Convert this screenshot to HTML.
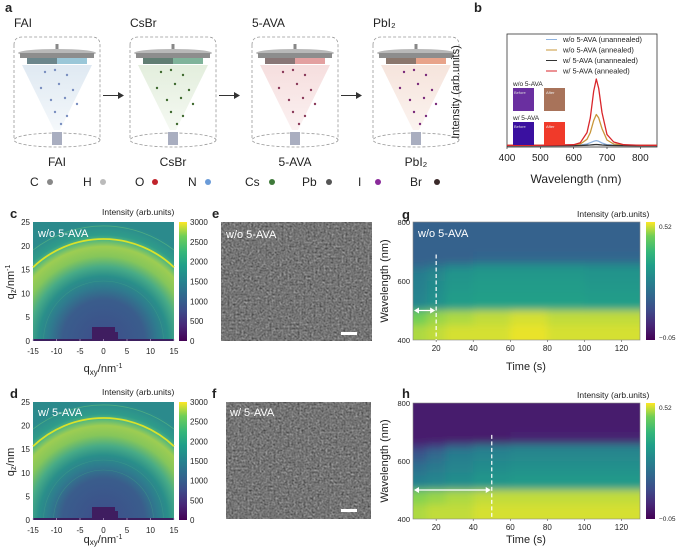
<!DOCTYPE html>
<html><head><meta charset="utf-8"><style>
html,body{margin:0;padding:0;background:#fff;width:685px;height:554px;overflow:hidden}
svg{display:block}
svg text{font-family:"Liberation Sans",sans-serif;fill:#222}
</style></head><body>
<svg id="fig" width="685" height="554" viewBox="0 0 685 554" xmlns="http://www.w3.org/2000/svg">
<defs>
<linearGradient id="vir" x1="0" y1="1" x2="0" y2="0">
<stop offset="0" stop-color="#440154"/><stop offset="0.13" stop-color="#482878"/><stop offset="0.25" stop-color="#3e4a89"/><stop offset="0.38" stop-color="#31688e"/><stop offset="0.5" stop-color="#26828e"/><stop offset="0.63" stop-color="#1f9e89"/><stop offset="0.75" stop-color="#35b779"/><stop offset="0.88" stop-color="#6ece58"/><stop offset="1" stop-color="#fde725"/></linearGradient>
<radialGradient id="gi" gradientUnits="userSpaceOnUse" cx="103.5" cy="341" r="118">
<stop offset="0" stop-color="#3d4d8a"/><stop offset="0.35" stop-color="#3a5d8c"/><stop offset="0.46" stop-color="#2f7b8e"/><stop offset="0.55" stop-color="#2a8f8a"/><stop offset="0.63" stop-color="#48ab86"/><stop offset="0.72" stop-color="#86c65a"/><stop offset="0.8" stop-color="#9dcd52"/><stop offset="0.85" stop-color="#5ab97a"/><stop offset="0.9" stop-color="#2f9c8a"/><stop offset="1" stop-color="#2b8a8c"/></radialGradient>
<radialGradient id="gi2" gradientUnits="userSpaceOnUse" cx="103.5" cy="520" r="118">
<stop offset="0" stop-color="#3d4d8a"/><stop offset="0.35" stop-color="#3a5d8c"/><stop offset="0.46" stop-color="#2f7b8e"/><stop offset="0.55" stop-color="#2a8f8a"/><stop offset="0.63" stop-color="#48ab86"/><stop offset="0.72" stop-color="#86c65a"/><stop offset="0.8" stop-color="#9dcd52"/><stop offset="0.85" stop-color="#5ab97a"/><stop offset="0.9" stop-color="#2f9c8a"/><stop offset="1" stop-color="#2b8a8c"/></radialGradient>
<filter id="sem" x="0" y="0" width="1" height="1" color-interpolation-filters="sRGB"><feTurbulence type="fractalNoise" baseFrequency="0.5" numOctaves="2" seed="3"/><feColorMatrix type="matrix" values="0.33 0.33 0.33 0 0  0.33 0.33 0.33 0 0  0.33 0.33 0.33 0 0  0 0 0 0 1"/><feComponentTransfer><feFuncR type="linear" slope="0.8" intercept="0.06"/><feFuncG type="linear" slope="0.8" intercept="0.06"/><feFuncB type="linear" slope="0.8" intercept="0.06"/></feComponentTransfer></filter>
<filter id="blur"><feGaussianBlur stdDeviation="4"/></filter>
<clipPath id="clipg"><rect x="413" y="222" width="227" height="118"/></clipPath>
<clipPath id="cliph"><rect x="413" y="403" width="227" height="116"/></clipPath>
<linearGradient id="cone1" x1="0" y1="0" x2="0" y2="1"><stop offset="0" stop-color="#dfe9f2"/><stop offset="1" stop-color="#f4f8fb"/></linearGradient>
<linearGradient id="cone2" x1="0" y1="0" x2="0" y2="1"><stop offset="0" stop-color="#e3eedd"/><stop offset="1" stop-color="#f5f9f2"/></linearGradient>
<linearGradient id="cone3" x1="0" y1="0" x2="0" y2="1"><stop offset="0" stop-color="#f6dede"/><stop offset="1" stop-color="#fbf1f1"/></linearGradient>
<linearGradient id="cone4" x1="0" y1="0" x2="0" y2="1"><stop offset="0" stop-color="#f6e4dc"/><stop offset="1" stop-color="#fbf3ef"/></linearGradient>
</defs>

<g id="panel-a">
<text x="5" y="12" font-size="13" font-weight="bold">a</text>
<g id="stations"></g>
</g>

<g id="panel-b">
<text x="474" y="12" font-size="13" font-weight="bold">b</text>
<rect x="507" y="34" width="150" height="113" fill="none" stroke="#333" stroke-width="0.8"/>
<text transform="translate(459,92) rotate(-90)" text-anchor="middle" font-size="11">Intensity (arb.units)</text>
<text x="576" y="183" text-anchor="middle" font-size="12">Wavelength (nm)</text>
<g id="b-ticks"></g>
<g id="b-lines"></g>
<g id="b-legend"></g>
<text x="513" y="86" font-size="6.5">w/o 5-AVA</text>
<rect x="513" y="88" width="21" height="23" fill="#6a2fa0"/>
<text x="514" y="94" font-size="4" style="fill:#ddd">Before</text>
<rect x="544" y="88" width="21" height="23" fill="#a8735a"/>
<text x="546" y="94" font-size="4" style="fill:#eee">After</text>
<text x="513" y="120" font-size="6.5">w/   5-AVA</text>
<rect x="513" y="122" width="21" height="23" fill="#3a10a0"/>
<text x="514" y="128" font-size="4" style="fill:#ddd">Before</text>
<rect x="544" y="122" width="21" height="23" fill="#f03a2a"/>
<text x="546" y="128" font-size="4" style="fill:#eee">After</text>
</g>

<g id="panel-c">
<text x="10" y="218" font-size="13" font-weight="bold">c</text>
<text x="102" y="215" font-size="8.5">Intensity (arb.units)</text>
<rect x="33" y="222" width="141" height="119" fill="url(#gi)"/>
<path d="M33,267.3 A102,102 0 0 1 174,267.3" fill="none" stroke="#d9e22a" stroke-width="1.8"/>
<path d="M33,250.1 A115,115 0 0 1 174,250.1" fill="none" stroke="#5cb880" stroke-width="0.8" opacity="0.7"/>
<path d="M43.5,341 A60,60 0 0 1 163.5,341" fill="none" stroke="#3fa08a" stroke-width="0.6" opacity="0.6"/>
<rect x="33" y="339" width="141" height="2" fill="#3b1f5e"/>
<path d="M92,341 L92,327 L115,327 L115,332 L118,332 L118,341 Z" fill="#3f1d60"/>
<text x="38" y="237" font-size="11" style="fill:#fff">w/o 5-AVA</text>
<rect x="179" y="222" width="8" height="119" fill="url(#vir)"/>
<g id="c-ticks"></g>
<text transform="translate(14,282) rotate(-90)" text-anchor="middle" font-size="11">q<tspan font-size="8" dy="2">z</tspan><tspan dy="-2">/nm</tspan><tspan font-size="7" dy="-4">-1</tspan></text>
<text x="103" y="372" text-anchor="middle" font-size="11">q<tspan font-size="8" dy="3">xy</tspan><tspan dy="-3">/nm</tspan><tspan font-size="7" dy="-4">-1</tspan></text>
</g>

<g id="panel-d">
<text x="10" y="398" font-size="13" font-weight="bold">d</text>
<text x="102" y="395" font-size="8.5">Intensity (arb.units)</text>
<rect x="33" y="402" width="141" height="118" fill="url(#gi2)"/>
<path d="M33,446.3 A102,102 0 0 1 174,446.3" fill="none" stroke="#d9e22a" stroke-width="1.8"/>
<path d="M33,429.1 A115,115 0 0 1 174,429.1" fill="none" stroke="#5cb880" stroke-width="0.8" opacity="0.7"/>
<path d="M43.5,520 A60,60 0 0 1 163.5,520" fill="none" stroke="#3fa08a" stroke-width="0.6" opacity="0.6"/>
<path d="M53.5,520 A50,50 0 0 1 153.5,520" fill="none" stroke="#3fa08a" stroke-width="0.6" opacity="0.5"/>
<rect x="33" y="518" width="141" height="2" fill="#3b1f5e"/>
<path d="M92,520 L92,507 L115,507 L115,511 L118,511 L118,520 Z" fill="#3f1d60"/>
<text x="38" y="416" font-size="11" style="fill:#fff">w/ 5-AVA</text>
<rect x="179" y="402" width="8" height="118" fill="url(#vir)"/>
<g id="d-ticks"></g>
<text transform="translate(14,462) rotate(-90)" text-anchor="middle" font-size="11">q<tspan font-size="8" dy="2">z</tspan><tspan dy="-2">/nm</tspan></text>
<text x="103" y="543" text-anchor="middle" font-size="11">q<tspan font-size="8" dy="2">xy</tspan><tspan dy="-2">/nm</tspan><tspan font-size="7" dy="-4">-1</tspan></text>
</g>

<g>
<text x="212" y="218" font-size="13" font-weight="bold">e</text>
<rect x="221" y="222" width="151" height="119" fill="#777" filter="url(#sem)"/>
<text x="226" y="238" font-size="11" style="fill:#fff">w/o 5-AVA</text>
<rect x="341" y="332" width="16" height="3" fill="#fff"/>
</g>
<g>
<text x="212" y="398" font-size="13" font-weight="bold">f</text>
<rect x="226" y="402" width="145" height="117" fill="#777" filter="url(#sem)"/>
<text x="230" y="416" font-size="11" style="fill:#fff">w/ 5-AVA</text>
<rect x="341" y="509" width="16" height="3" fill="#fff"/>
</g>

<g>
<text x="402" y="219" font-size="13" font-weight="bold">g</text>
<text x="577" y="217" font-size="8.5">Intensity (arb.units)</text>
<g id="g-map" clip-path="url(#clipg)"></g>
<text x="418" y="237" font-size="11" style="fill:#fff">w/o 5-AVA</text>
<rect x="646" y="222" width="9" height="118" fill="url(#vir)"/>
<text x="659" y="229" font-size="6.5">0.52</text><text x="659" y="340" font-size="6.5">−0.05</text>
<g id="g-axes"></g>
<text transform="translate(388,281) rotate(-90)" text-anchor="middle" font-size="11">Wavelength (nm)</text>
<text x="526" y="370" text-anchor="middle" font-size="11">Time (s)</text>
</g>
<g>
<text x="402" y="398" font-size="13" font-weight="bold">h</text>
<text x="577" y="398" font-size="8.5">Intensity (arb.units)</text>
<g id="h-map" clip-path="url(#cliph)"></g>
<rect x="646" y="403" width="9" height="116" fill="url(#vir)"/>
<text x="659" y="410" font-size="6.5">0.52</text><text x="659" y="521" font-size="6.5">−0.05</text>
<g id="h-axes"></g>
<text transform="translate(388,461) rotate(-90)" text-anchor="middle" font-size="11">Wavelength (nm)</text>
<text x="526" y="543" text-anchor="middle" font-size="11">Time (s)</text>
</g>
</svg>
<script>
// ---------- Panel b data ----------
const bWavelengths = [400,500,600,620,640,650,660,668,675,685,700,720,750,800,850];
const bRedAnnealed = [0.01,0.01,0.02,0.05,0.2,0.42,0.82,1.0,0.86,0.5,0.17,0.06,0.02,0.01,0.01];
const bOrangeAnnealed = [0.01,0.01,0.015,0.03,0.1,0.2,0.38,0.47,0.42,0.26,0.09,0.03,0.015,0.01,0.01];
const bBlueUnannealed = [0.01,0.01,0.012,0.015,0.03,0.05,0.07,0.08,0.07,0.045,0.02,0.012,0.01,0.01,0.01];
const bBlackUnannealed = [0.005,0.005,0.006,0.008,0.012,0.015,0.02,0.022,0.02,0.015,0.01,0.007,0.006,0.005,0.005];
const bXTicks = [400,500,600,700,800];
const bLegend = ["w/o 5-AVA (unannealed)","w/o 5-AVA (annealed)","w/   5-AVA (unannealed)","w/   5-AVA (annealed)"];
const bColors = ["#8fb3df","#c8973a","#333333","#d9262b"];

// ---------- Panel c/d data ----------
const qTicks = [-15,-10,-5,0,5,10,15];
const qzTicks = [0,5,10,15,20,25];
const cbarTicks = [0,500,1000,1500,2000,2500,3000];

// ---------- Panel g/h data ----------
const timeBounds = [7.5,15,25,40,60,80,100,130];
const wlBounds = [800,700,660,640,600,560,520,500,450,400];
const gValues = [
 [0.15,0.15,0.17,0.22,0.23,0.24,0.26,0.45,0.48],
 [0.15,0.15,0.20,0.25,0.26,0.27,0.28,0.47,0.49],
 [0.15,0.15,0.24,0.28,0.29,0.30,0.31,0.48,0.50],
 [0.15,0.16,0.27,0.29,0.30,0.31,0.33,0.49,0.50],
 [0.15,0.16,0.27,0.29,0.30,0.31,0.33,0.50,0.51],
 [0.15,0.16,0.27,0.29,0.30,0.31,0.33,0.49,0.50],
 [0.15,0.16,0.26,0.28,0.29,0.30,0.32,0.49,0.50]];
const hValues = [
 [0.00,0.00,0.05,0.12,0.18,0.22,0.26,0.46,0.48],
 [0.00,0.00,0.08,0.17,0.21,0.24,0.27,0.47,0.49],
 [0.00,0.00,0.15,0.22,0.24,0.26,0.28,0.48,0.49],
 [0.00,0.00,0.20,0.24,0.26,0.28,0.30,0.49,0.50],
 [0.00,0.01,0.22,0.25,0.27,0.29,0.31,0.49,0.50],
 [0.00,0.01,0.22,0.25,0.27,0.29,0.31,0.49,0.50],
 [0.00,0.01,0.22,0.25,0.27,0.29,0.31,0.49,0.50]];
const timeTicks = [20,40,60,80,100,120];
const wlTicks = [400,600,800];
const gMarkerTime = 20, hMarkerTime = 50;

const NS = "http://www.w3.org/2000/svg";
function mk(tag, attrs, parent){const e=document.createElementNS(NS,tag);for(const k in attrs)e.setAttribute(k,attrs[k]);parent.appendChild(e);return e;}
function txt(parent,x,y,s,size,anchor){const t=mk("text",{x:x,y:y,"font-size":size,"text-anchor":anchor||"middle"},parent);t.textContent=s;return t;}

// ---- b
const bx = w => 507 + (w-400)*150/450;
const by = v => 146 - v*67;
const bT = document.getElementById("b-ticks");
bXTicks.forEach(w=>{
  const t=txt(bT,bx(w),161,String(w),10);
  
  
  mk("line",{x1:bx(w),x2:bx(w),y1:147,y2:149,stroke:"#333","stroke-width":0.7},bT);
});
const bL=document.getElementById("b-lines");
[bBlueUnannealed,bOrangeAnnealed,bBlackUnannealed,bRedAnnealed].forEach((ser,i)=>{
  const col=bColors[i];
  let d="";
  ser.forEach((v,j)=>{d+=(j?"L":"M")+bx(bWavelengths[j]).toFixed(1)+","+by(v).toFixed(1);});
  const p=mk("path",{d:d,fill:"none",stroke:col,"stroke-width":1.3,"stroke-linejoin":"round"},bL);
  
  
});
const bLeg=document.getElementById("b-legend");
bLegend.forEach((s,i)=>{
  const y=42+i*10.5;
  const l=mk("line",{x1:546,x2:557,y1:y-2.5,y2:y-2.5,stroke:bColors[i],"stroke-width":1},bLeg);
  
  
  const t=txt(bLeg,563,y,s,7.4,"start");
  
  
});

// ---- c/d axes
function giAxes(gid,top,bottom){
  const g=document.getElementById(gid);
  const qx=q=>103.5+q*141/30;
  const qy=q=>bottom-q*(bottom-top)/25;
  qTicks.forEach(q=>{
    const t=txt(g,qx(q),bottom+13,String(q),8);
    
    
    mk("line",{x1:qx(q),x2:qx(q),y1:bottom,y2:bottom-2,stroke:"#c9b7d8","stroke-width":0.6},g);
  });
  qzTicks.forEach(q=>{
    const t=txt(g,30,qy(q)+3,String(q),8,"end");
    
    
  });
  cbarTicks.forEach(v=>{
    const t=txt(g,190,bottom-v*(bottom-top)/3000+3,String(v),8,"start");
    
    
  });
}
giAxes("c-ticks",222,341);
giAxes("d-ticks",402,520);

// ---- viridis
const VIR=[[68,1,84],[72,40,120],[62,74,137],[49,104,142],[38,130,142],[31,158,137],[53,183,121],[110,206,88],[253,231,37]];
function vir(v){let t=(v+0.05)/0.57;t=Math.max(0,Math.min(1,t))*8;const i=Math.min(7,Math.floor(t)),f=t-i;const a=VIR[i],b=VIR[i+1];
  return "rgb("+a.map((c,k)=>Math.round(c+(b[k]-c)*f)).join(",")+")";}

function heat(mapId,axId,top,bottom,vals,marker){
  const tx=t=>413+(t-7.5)*227/122.5;
  const wy=w=>bottom-(w-400)*(bottom-top)/400;
  const m=document.getElementById(mapId);
  const inner=mk("g",{filter:"url(#blur)"},m);
  vals.forEach((col,i)=>{
    col.forEach((v,j)=>{
      let x0=tx(timeBounds[i]),x1=tx(timeBounds[i+1]);
      let y0=wy(wlBounds[j]),y1=wy(wlBounds[j+1]);
      if(i===0)x0-=8; if(i===vals.length-1)x1+=8;
      if(j===0)y0-=8; if(j===col.length-1)y1+=8;
      const r=mk("rect",{x:x0,y:y0,width:x1-x0+0.5,height:y1-y0+0.5,fill:vir(v)},inner);
      
      
    });
  });
  const a=document.getElementById(axId);
  mk("rect",{x:413,y:top,width:227,height:bottom-top,fill:"none",stroke:"#888","stroke-width":0.6},a);
  timeTicks.forEach(t=>{
    const l=txt(a,tx(t),bottom+11,String(t),8);
    
    
    mk("line",{x1:tx(t),x2:tx(t),y1:bottom,y2:bottom+2,stroke:"#555","stroke-width":0.6},a);
  });
  wlTicks.forEach(w=>{
    const l=txt(a,410,wy(w)+3,String(w),7.5,"end");
    
    
  });
  const xm=tx(marker);
  const dl=mk("line",{x1:xm,x2:xm,y1:wy(690),y2:bottom,stroke:"#fff","stroke-width":1.2,"stroke-dasharray":"4,2.5"},a);
  
  
  const ay=wy(500);
  const ar=mk("line",{x1:416,x2:xm-3,y1:ay,y2:ay,stroke:"#fff","stroke-width":1.2},a);
  
  
  mk("path",{d:`M414,${ay} l5,-3 v6 Z M${xm-1},${ay} l-5,-3 v6 Z`,fill:"#fff"},a);
}
heat("g-map","g-axes",222,340,gValues,gMarkerTime);
heat("h-map","h-axes",403,519,hValues,hMarkerTime);

// ---- panel a schematic
const st=document.getElementById("stations");
const stations=[
 {x:14,name:"FAI",cone:"url(#cone1)",dot:"#7a8fc0",layer:"#9ac7d8"},
 {x:130,name:"CsBr",cone:"url(#cone2)",dot:"#3f6a2f",layer:"#7fb39a"},
 {x:252,name:"5-AVA",cone:"url(#cone3)",dot:"#8a3a5a",layer:"#e3a0a0"},
 {x:373,name:"PbI\u2082",cone:"url(#cone4)",dot:"#7a2a7a",layer:"#e8a38a"}];
const dotPos=[[30,72],[40,70],[52,75],[26,88],[44,84],[58,90],[36,100],[50,98],[62,104],[40,112],[52,116],[46,124]];
stations.forEach((s,i)=>{
  const g=mk("g",{},st);
  
  
  const x=s.x,w=86;
  txt(g,x,27,s.name,12,"start");
  mk("path",{d:`M${x},45 Q${x},37 ${x+8},37 L${x+w-8},37 Q${x+w},37 ${x+w},45 L${x+w},140 M${x},45 L${x},140`,fill:"none",stroke:"#999","stroke-width":0.8,"stroke-dasharray":"3,2"},g);
  mk("ellipse",{cx:x+w/2,cy:140,rx:w/2,ry:7,fill:"none",stroke:"#999","stroke-width":0.8,"stroke-dasharray":"3,2"},g);
  mk("path",{d:`M${x+8},65 L${x+w-8},65 L${x+w/2+3},130 L${x+w/2-3},130 Z`,fill:s.cone},g);
  mk("rect",{x:x+w/2-1.5,y:44,width:3,height:6,fill:"#888"},g);
  mk("ellipse",{cx:x+w/2,cy:53,rx:39,ry:4,fill:"#b8b8b8"},g);
  mk("rect",{x:x+6,y:53,width:w-12,height:5,fill:"#8d8d8d"},g);
  mk("rect",{x:x+13,y:58,width:w-26,height:6,fill:s.layer},g);
  mk("rect",{x:x+13,y:58,width:(w-26)/2,height:6,fill:"#4d5a5a",opacity:0.6},g);
  dotPos.forEach(p=>{mk("circle",{cx:x+p[0]-14+w/2-36+8,cy:p[1],r:1.2,fill:s.dot},g);});
  mk("rect",{x:x+w/2-5,y:132,width:10,height:13,fill:"#a9aec0"},g);
  txt(g,x+w/2,166,s.name,12);
  if(i<3){const ax=x+w+3;mk("path",{d:`M${ax},95 h15 v-3 l6,3.5 l-6,3.5 v-3 h-15 Z`,fill:"#333"},g);}
});
const legendA=[["C",30,"#888"],["H",83,"#bbb"],["O",135,"#c0232b"],["N",188,"#6a9bd8"],["Cs",245,"#3f7a3a"],["Pb",302,"#555"],["I",358,"#8a2a9a"],["Br",410,"#3a2a2a"]];
const lg=mk("g",{},st);


legendA.forEach(e=>{txt(lg,e[1],186,e[0],12,"start");mk("circle",{cx:e[1]+(e[0].length>1?27:20),cy:182,r:3,fill:e[2]},lg);});
</script>
</body></html>
